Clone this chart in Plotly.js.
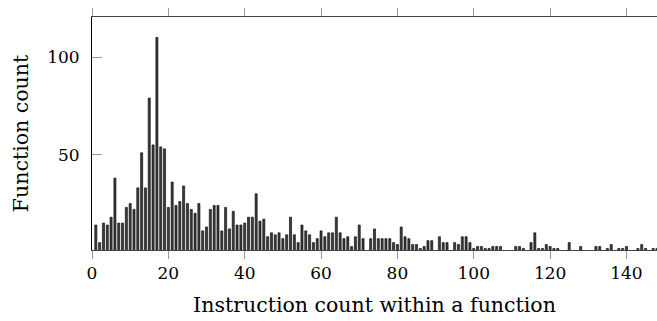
<!DOCTYPE html>
<html>
<head>
<meta charset="utf-8">
<script src="https://cdn.plot.ly/plotly-3.0.1.min.js"></script>
<style>html,body{margin:0;padding:0;background:#fff;}#chart{width:657px;height:321px;}</style>
</head>
<body>
<div id="chart"></div>
<script>
const instructionCounts = [];
for (let i = 1; i <= 148; i++) instructionCounts.push(i);
const functionCounts = [
  14, 5, 15, 14, 18, 38, 15, 15, 23, 25,
  22, 33, 51, 33, 79, 55, 110, 54, 53, 23,
  36, 24, 26, 34, 25, 22, 20, 25, 11, 13,
  22, 24, 24, 11, 23, 12, 21, 14, 14, 15,
  18, 18, 30, 16, 17, 8, 10, 9, 10, 7,
  9, 18, 9, 5, 14, 11, 9, 5, 7, 11,
  8, 10, 10, 18, 10, 7, 8, 3, 8, 14,
  7, 0, 7, 12, 7, 7, 7, 7, 5, 4,
  13, 8, 7, 4, 4, 2, 3, 6, 6, 0,
  8, 5, 5, 0, 5, 4, 8, 8, 5, 2,
  3, 3, 2, 2, 3, 3, 3, 0, 0, 0,
  3, 3, 2, 0, 5, 10, 2, 2, 4, 3,
  2, 2, 0, 0, 5, 0, 0, 3, 0, 0,
  0, 3, 3, 0, 2, 4, 0, 2, 2, 3,
  0, 0, 2, 4, 2, 0, 2, 2
];
const xTickVals = [0, 20, 40, 60, 80, 100, 120, 140];
const yTickVals = [50, 100];
const xTitle = 'Instruction count within a function';
const yTitle = 'Function count';

const family = '"DejaVu Serif", "Liberation Serif", serif';
const tickFont = {family: family, size: 17, color: '#000'};
const titleFont = {family: family, size: 20.5, color: '#000'};

Plotly.newPlot('chart', [{
  type: 'bar',
  x: instructionCounts,
  y: functionCounts,
  width: 0.55,
  marker: {color: '#3c3c3c', line: {color: '#000', width: 0.6}},
  hoverinfo: 'none'
}], {
  width: 657, height: 321,
  margin: {l: 92, r: 0, t: 17, b: 71},
  paper_bgcolor: '#fff', plot_bgcolor: '#fff',
  font: tickFont,
  showlegend: false,
  bargap: 0,
  xaxis: {
    range: [0, 148],
    tickvals: xTickVals,
    ticktext: xTickVals.map(String),
    ticks: 'outside', ticklen: 8, tickcolor: '#999', tickwidth: 1,
    showline: true, linecolor: '#444', linewidth: 1, mirror: 'ticks',
    showgrid: false, zeroline: false,
    tickfont: tickFont,
    title: {text: xTitle, font: titleFont, standoff: 15}
  },
  yaxis: {
    range: [1.2, 120.5],
    tickvals: yTickVals,
    ticktext: yTickVals.map(String),
    ticks: 'inside', ticklen: 10, tickcolor: '#999', tickwidth: 1,
    showline: true, linecolor: '#000', linewidth: 1,
    showgrid: false, zeroline: false,
    tickfont: tickFont, ticklabelstandoff: 8,
    title: {text: yTitle, font: titleFont, standoff: 12}
  }
}, {displayModeBar: false, staticPlot: true});
</script>
</body>
</html>
